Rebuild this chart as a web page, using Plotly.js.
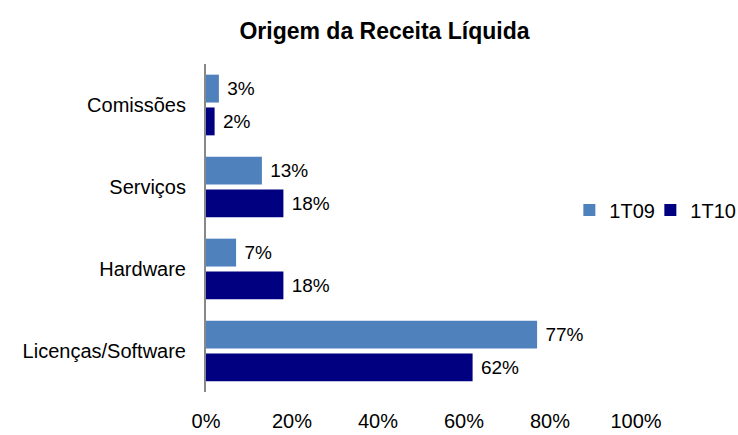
<!DOCTYPE html>
<html>
<head>
<meta charset="utf-8">
<script src="https://cdn.plot.ly/plotly-3.0.1.min.js"></script>
<style>
  html, body { margin: 0; padding: 0; background: #fff; }
  #chart { width: 738px; height: 435px; }
</style>
</head>
<body>
<div id="chart"></div>
<script>
const categories = ['Comissões', 'Serviços', 'Hardware', 'Licenças/Software'];
const values1T09 = [3, 13, 7, 77];
const values1T10 = [2, 18, 18, 62];
const seriesNames = ['1T09', '1T10'];
const xTicks = [0, 20, 40, 60, 80, 100];

const font = 'Liberation Sans, Arial, sans-serif';

function makeTrace(name, values, color) {
    return {
        type: 'bar',
        orientation: 'h',
        name: name,
        y: categories,
        x: values,
        text: values.map((v) => '\u00a0' + v + '%'),
        textposition: 'outside',
        cliponaxis: false,
        textfont: { family: font, size: 19, color: '#000' },
        marker: { color: color },
        hoverinfo: 'x+y'
    };
}

const data = [
    makeTrace(seriesNames[0], values1T09, '#4F81BD'),
    makeTrace(seriesNames[1], values1T10, '#000080')
];
// tighter spacing between the two legend entries
data[0].legendwidth = 36;

const layout = {
    width: 738,
    height: 435,
    margin: { l: 206, r: 102, t: 64, b: 43, autoexpand: false },
    paper_bgcolor: '#fff',
    plot_bgcolor: '#fff',
    font: { family: font, size: 20, color: '#000' },
    title: {
        text: '<b>Origem da Receita Líquida</b>',
        font: { family: font, size: 23, color: '#000' },
        x: 0.521,
        xanchor: 'center',
        y: 0.929,
        yanchor: 'middle'
    },
    barmode: 'group',
    bargap: 0.2,
    bargroupgap: 0.15,
    xaxis: {
        range: [0, 100],
        tickvals: xTicks,
        ticktext: xTicks.map((t) => t + '%'),
        showgrid: false,
        zeroline: false,
        showline: false,
        ticks: '',
        ticklabelstandoff: 15,
        tickfont: { family: font, size: 20 }
    },
    yaxis: {
        autorange: 'reversed',
        showgrid: false,
        zeroline: false,
        showline: true,
        linecolor: '#888',
        linewidth: 2,
        ticks: '',
        ticklabelstandoff: 14,
        tickfont: { family: font, size: 20 }
    },
    showlegend: true,
    legend: {
        orientation: 'h',
        x: 0.845,
        xanchor: 'left',
        y: 0.555,
        yanchor: 'middle',
        font: { family: font, size: 20 },
        traceorder: 'normal',
        itemwidth: 30
    }
};

Plotly.newPlot('chart', data, layout, { displayModeBar: false });
</script>
</body>
</html>
